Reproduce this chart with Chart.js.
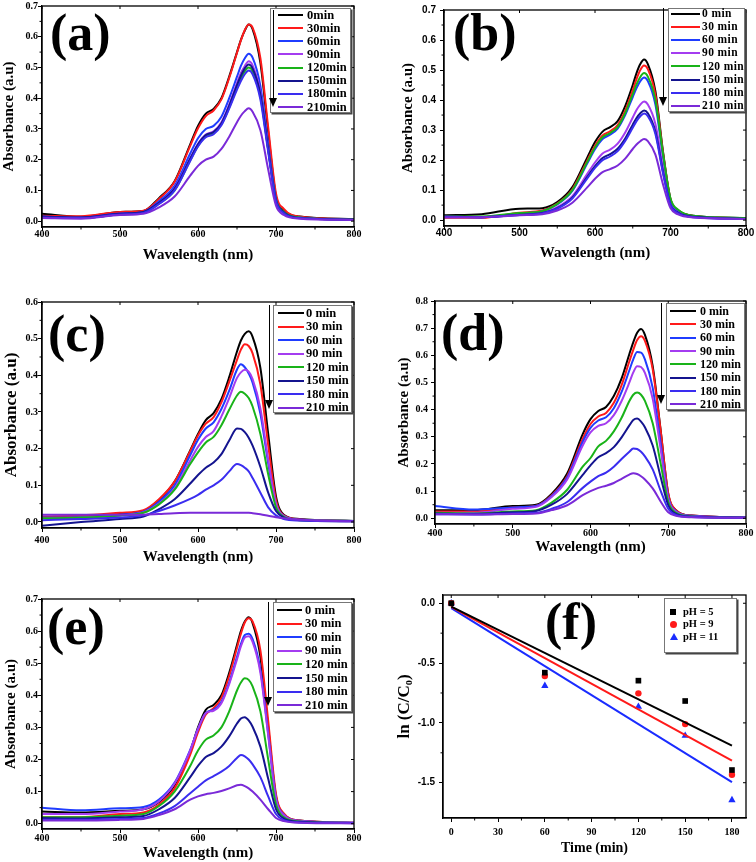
<!DOCTYPE html>
<html>
<head>
<meta charset="utf-8">
<script src="https://cdn.jsdelivr.net/npm/chart.js@4.4.1/dist/chart.umd.min.js"></script>
<style>
  html, body { margin: 0; padding: 0; background: #fff; }
  body { width: 756px; height: 862px; position: relative; overflow: hidden; }
  canvas { position: absolute; }
  .tag { position: absolute; font-family: 'Liberation Serif', 'Times New Roman', serif; font-weight: bold; font-size: 52px; line-height: 1; color: #000; white-space: nowrap; }
  .legend { position: absolute; background: #fff; border: 1px solid #777; box-shadow: 1.5px 1.5px 0 #444; box-sizing: border-box; }
  .swatch { position: absolute; height: 2px; }
  .legend-text { position: absolute; font-family: 'Liberation Serif', 'Times New Roman', serif; font-weight: bold; color: #000; white-space: nowrap; }
  .arrow { position: absolute; width: 0; border-left: 1.5px solid #000; }
  .arrow::after { content: ''; position: absolute; left: -5px; bottom: -2px; border-left: 4px solid transparent; border-right: 4px solid transparent; border-top: 9px solid #000; }
  .marker { position: absolute; }
</style>
</head>
<body>
<canvas id="chartA" width="378" height="266" style="left:0px;top:0px"></canvas>
<canvas id="chartB" width="378" height="264" style="left:378px;top:0px"></canvas>
<canvas id="chartC" width="378" height="288" style="left:0px;top:280px"></canvas>
<canvas id="chartD" width="378" height="278" style="left:378px;top:280px"></canvas>
<canvas id="chartE" width="378" height="292" style="left:0px;top:570px"></canvas>
<canvas id="chartF" width="378" height="289" style="left:378px;top:570px"></canvas>

<script>
// ---- data ----
const wavelengths = [400, 450, 500, 530, 550, 570, 590, 600, 610, 620, 630, 640, 650, 655, 660, 665, 670, 680, 690, 700, 710, 730, 800];

const timesA = ['0min', '30min', '60min', '90min', '120min', '150min', '180min', '210min'];
const timesOther = ['0 min', '30 min', '60 min', '90 min', '120 min', '150 min', '180 min', '210 min'];

// panel (a) absorbance, one row per irradiation time
const spectraA = [
  [0.024, 0.014, 0.030, 0.033, 0.075, 0.130, 0.250, 0.310, 0.350, 0.365, 0.400, 0.470, 0.550, 0.590, 0.620, 0.640, 0.625, 0.515, 0.290, 0.080, 0.035, 0.015, 0.007],
  [0.018, 0.016, 0.030, 0.034, 0.072, 0.128, 0.245, 0.302, 0.342, 0.360, 0.396, 0.466, 0.548, 0.588, 0.622, 0.640, 0.630, 0.530, 0.305, 0.090, 0.040, 0.015, 0.006],
  [0.015, 0.012, 0.025, 0.030, 0.065, 0.115, 0.220, 0.270, 0.300, 0.310, 0.340, 0.400, 0.470, 0.505, 0.530, 0.545, 0.532, 0.440, 0.250, 0.072, 0.030, 0.012, 0.005],
  [0.012, 0.010, 0.022, 0.028, 0.060, 0.108, 0.205, 0.252, 0.282, 0.292, 0.322, 0.380, 0.450, 0.482, 0.505, 0.520, 0.507, 0.420, 0.238, 0.068, 0.028, 0.010, 0.005],
  [0.012, 0.010, 0.022, 0.028, 0.057, 0.100, 0.198, 0.245, 0.276, 0.286, 0.315, 0.370, 0.435, 0.465, 0.488, 0.500, 0.488, 0.405, 0.232, 0.070, 0.030, 0.012, 0.005],
  [0.015, 0.012, 0.024, 0.030, 0.060, 0.106, 0.203, 0.250, 0.280, 0.290, 0.318, 0.375, 0.443, 0.473, 0.497, 0.510, 0.497, 0.412, 0.234, 0.068, 0.028, 0.010, 0.005],
  [0.012, 0.010, 0.022, 0.027, 0.056, 0.100, 0.196, 0.243, 0.273, 0.283, 0.312, 0.366, 0.428, 0.456, 0.478, 0.490, 0.478, 0.396, 0.225, 0.065, 0.026, 0.010, 0.004],
  [0.010, 0.008, 0.020, 0.024, 0.045, 0.080, 0.148, 0.180, 0.200, 0.210, 0.235, 0.275, 0.322, 0.343, 0.358, 0.367, 0.356, 0.296, 0.168, 0.050, 0.020, 0.008, 0.004]
];

const spectraB = [
  [0.016, 0.020, 0.038, 0.040, 0.060, 0.110, 0.210, 0.260, 0.295, 0.310, 0.330, 0.380, 0.450, 0.490, 0.520, 0.535, 0.520, 0.430, 0.230, 0.070, 0.033, 0.015, 0.007],
  [0.008, 0.008, 0.025, 0.032, 0.055, 0.103, 0.200, 0.248, 0.282, 0.296, 0.317, 0.365, 0.433, 0.470, 0.500, 0.515, 0.503, 0.418, 0.226, 0.070, 0.033, 0.014, 0.006],
  [0.012, 0.010, 0.022, 0.030, 0.052, 0.097, 0.190, 0.236, 0.270, 0.285, 0.305, 0.350, 0.410, 0.440, 0.463, 0.475, 0.463, 0.385, 0.212, 0.066, 0.030, 0.013, 0.006],
  [0.012, 0.010, 0.020, 0.026, 0.043, 0.080, 0.155, 0.192, 0.222, 0.235, 0.255, 0.292, 0.342, 0.367, 0.385, 0.395, 0.385, 0.320, 0.176, 0.056, 0.026, 0.012, 0.005],
  [0.012, 0.012, 0.024, 0.030, 0.054, 0.100, 0.195, 0.242, 0.276, 0.290, 0.310, 0.356, 0.420, 0.452, 0.477, 0.490, 0.478, 0.400, 0.222, 0.072, 0.035, 0.015, 0.007],
  [0.012, 0.010, 0.018, 0.024, 0.040, 0.075, 0.145, 0.180, 0.207, 0.220, 0.238, 0.272, 0.318, 0.340, 0.356, 0.365, 0.356, 0.295, 0.162, 0.052, 0.025, 0.011, 0.005],
  [0.010, 0.010, 0.017, 0.022, 0.038, 0.072, 0.140, 0.174, 0.200, 0.212, 0.230, 0.264, 0.308, 0.330, 0.346, 0.355, 0.346, 0.287, 0.157, 0.050, 0.023, 0.010, 0.004],
  [0.010, 0.010, 0.016, 0.020, 0.032, 0.058, 0.110, 0.138, 0.160, 0.170, 0.182, 0.205, 0.237, 0.252, 0.263, 0.270, 0.263, 0.218, 0.120, 0.040, 0.019, 0.009, 0.004]
];

const spectraC = [
  [0.012, 0.015, 0.022, 0.030, 0.060, 0.110, 0.195, 0.240, 0.278, 0.297, 0.335, 0.395, 0.465, 0.495, 0.513, 0.520, 0.505, 0.420, 0.240, 0.070, 0.020, 0.008, 0.003],
  [0.015, 0.018, 0.025, 0.032, 0.062, 0.110, 0.193, 0.236, 0.268, 0.286, 0.326, 0.382, 0.442, 0.470, 0.485, 0.480, 0.460, 0.375, 0.210, 0.060, 0.018, 0.007, 0.003],
  [0.012, 0.013, 0.020, 0.028, 0.055, 0.100, 0.182, 0.224, 0.255, 0.272, 0.308, 0.358, 0.416, 0.430, 0.422, 0.405, 0.380, 0.295, 0.160, 0.048, 0.016, 0.006, 0.003],
  [0.010, 0.012, 0.018, 0.026, 0.050, 0.092, 0.168, 0.205, 0.232, 0.248, 0.288, 0.338, 0.393, 0.408, 0.415, 0.410, 0.390, 0.310, 0.170, 0.050, 0.016, 0.006, 0.003],
  [0.010, 0.012, 0.018, 0.025, 0.048, 0.088, 0.158, 0.190, 0.217, 0.232, 0.264, 0.306, 0.345, 0.355, 0.350, 0.338, 0.315, 0.240, 0.130, 0.040, 0.014, 0.005, 0.003],
  [-0.010, 0.000, 0.008, 0.015, 0.035, 0.062, 0.105, 0.128, 0.148, 0.162, 0.185, 0.222, 0.255, 0.254, 0.245, 0.230, 0.208, 0.150, 0.080, 0.030, 0.012, 0.005, 0.002],
  [0.005, 0.008, 0.012, 0.018, 0.030, 0.045, 0.063, 0.074, 0.088, 0.100, 0.115, 0.138, 0.158, 0.155, 0.148, 0.138, 0.120, 0.080, 0.040, 0.018, 0.008, 0.004, 0.002],
  [0.020, 0.020, 0.020, 0.020, 0.022, 0.024, 0.025, 0.025, 0.025, 0.025, 0.025, 0.025, 0.025, 0.025, 0.025, 0.025, 0.024, 0.021, 0.017, 0.013, 0.010, 0.006, 0.002]
];

const spectraD = [
  [0.030, 0.030, 0.045, 0.050, 0.090, 0.165, 0.310, 0.365, 0.395, 0.410, 0.450, 0.515, 0.605, 0.648, 0.683, 0.697, 0.675, 0.560, 0.330, 0.090, 0.030, 0.010, 0.003],
  [0.025, 0.025, 0.040, 0.046, 0.085, 0.155, 0.293, 0.347, 0.375, 0.388, 0.425, 0.490, 0.578, 0.620, 0.656, 0.670, 0.653, 0.548, 0.328, 0.092, 0.030, 0.010, 0.003],
  [0.045, 0.032, 0.040, 0.045, 0.082, 0.150, 0.282, 0.333, 0.360, 0.372, 0.405, 0.465, 0.545, 0.585, 0.612, 0.610, 0.585, 0.480, 0.280, 0.078, 0.026, 0.009, 0.003],
  [0.020, 0.020, 0.035, 0.042, 0.078, 0.143, 0.268, 0.316, 0.340, 0.350, 0.380, 0.432, 0.500, 0.537, 0.560, 0.557, 0.535, 0.440, 0.258, 0.072, 0.024, 0.008, 0.003],
  [0.020, 0.018, 0.025, 0.030, 0.058, 0.105, 0.190, 0.222, 0.265, 0.285, 0.320, 0.370, 0.432, 0.455, 0.463, 0.455, 0.432, 0.350, 0.205, 0.060, 0.020, 0.007, 0.002],
  [0.018, 0.016, 0.022, 0.027, 0.050, 0.090, 0.160, 0.195, 0.225, 0.240, 0.262, 0.298, 0.342, 0.362, 0.367, 0.356, 0.335, 0.268, 0.155, 0.048, 0.016, 0.006, 0.002],
  [0.015, 0.014, 0.018, 0.020, 0.035, 0.060, 0.112, 0.135, 0.155, 0.168, 0.190, 0.218, 0.245, 0.257, 0.255, 0.245, 0.228, 0.180, 0.103, 0.035, 0.012, 0.005, 0.002],
  [0.015, 0.014, 0.016, 0.018, 0.030, 0.048, 0.085, 0.100, 0.112, 0.120, 0.130, 0.145, 0.161, 0.166, 0.163, 0.155, 0.143, 0.110, 0.063, 0.022, 0.009, 0.004, 0.002]
];

const spectraE = [
  [0.038, 0.035, 0.040, 0.045, 0.068, 0.120, 0.225, 0.300, 0.355, 0.370, 0.400, 0.470, 0.557, 0.600, 0.630, 0.643, 0.625, 0.520, 0.300, 0.085, 0.030, 0.010, 0.003],
  [0.020, 0.020, 0.030, 0.035, 0.060, 0.110, 0.215, 0.285, 0.340, 0.360, 0.392, 0.460, 0.548, 0.592, 0.627, 0.640, 0.630, 0.540, 0.320, 0.092, 0.032, 0.010, 0.003],
  [0.050, 0.042, 0.048, 0.052, 0.075, 0.128, 0.230, 0.295, 0.345, 0.355, 0.380, 0.440, 0.520, 0.560, 0.588, 0.592, 0.575, 0.480, 0.280, 0.080, 0.028, 0.009, 0.003],
  [0.030, 0.030, 0.038, 0.045, 0.070, 0.125, 0.228, 0.295, 0.345, 0.352, 0.375, 0.435, 0.512, 0.552, 0.580, 0.584, 0.566, 0.470, 0.275, 0.078, 0.027, 0.009, 0.003],
  [0.020, 0.020, 0.025, 0.030, 0.055, 0.100, 0.180, 0.228, 0.262, 0.275, 0.300, 0.350, 0.415, 0.440, 0.453, 0.448, 0.428, 0.350, 0.200, 0.060, 0.020, 0.007, 0.002],
  [0.018, 0.016, 0.020, 0.024, 0.045, 0.080, 0.145, 0.180, 0.208, 0.220, 0.240, 0.272, 0.312, 0.328, 0.332, 0.322, 0.302, 0.240, 0.140, 0.045, 0.016, 0.006, 0.002],
  [0.012, 0.012, 0.015, 0.018, 0.032, 0.055, 0.095, 0.115, 0.135, 0.148, 0.162, 0.180, 0.205, 0.214, 0.210, 0.200, 0.185, 0.145, 0.085, 0.030, 0.011, 0.004, 0.002],
  [0.010, 0.010, 0.012, 0.015, 0.027, 0.045, 0.075, 0.085, 0.092, 0.096, 0.102, 0.110, 0.120, 0.121, 0.117, 0.110, 0.100, 0.075, 0.045, 0.018, 0.008, 0.003, 0.001]
];

// panel (f): kinetics
const kineticTimes = [0, 60, 120, 150, 180];
const lnPH5 = [0, -0.58, -0.647, -0.817, -1.394];
const lnPH9 = [0, -0.608, -0.753, -1.01, -1.433];
const lnPH11 = [0, -0.69, -0.865, -1.107, -1.645];
const fitTimes = [0, 180];
const fitPH5 = [-0.028, -1.19];
const fitPH9 = [-0.03, -1.315];
const fitPH11 = [-0.04, -1.495];
const phLabels = ['pH = 5', 'pH = 9', 'pH = 11'];
const phColours = ['#000000', '#ff1a1a', '#1a2cff'];

const curveColours = ['#000000', '#ff1a1a', '#1f3cff', '#a43cf0', '#19b319', '#14148f', '#3a2df0', '#7a2ad8'];

// ---- helpers ----
const serif = "'Liberation Serif', 'Times New Roman', serif";
const sans = "'Liberation Sans', Arial, sans-serif";

const framePlugin = {
    id: 'frame',
    afterDatasetsDraw(chart) {
        const { ctx, chartArea: a } = chart;
        const xs = chart.scales.x, ys = chart.scales.y;
        const xt = xs.ticks.map(t => t.value), yt = ys.ticks.map(t => t.value);
        ctx.save();
        ctx.strokeStyle = '#000';
        ctx.lineWidth = 1.3;
        ctx.strokeRect(a.left, a.top, a.right - a.left, a.bottom - a.top);
        ctx.lineWidth = 1;
        ctx.beginPath();
        xt.forEach(v => {
            const p = xs.getPixelForValue(v);
            ctx.moveTo(p, a.top); ctx.lineTo(p, a.top + 3);
        });
        yt.forEach(v => {
            const p = ys.getPixelForValue(v);
            ctx.moveTo(a.right, p); ctx.lineTo(a.right - 3, p);
        });
        // minor ticks between the major ones
        for (let i = 0; i < xt.length - 1; i++) {
            const p = xs.getPixelForValue((xt[i] + xt[i + 1]) / 2);
            ctx.moveTo(p, a.bottom); ctx.lineTo(p, a.bottom + 2.5);
        }
        for (let i = 0; i < yt.length - 1; i++) {
            const p = ys.getPixelForValue((yt[i] + yt[i + 1]) / 2);
            ctx.moveTo(a.left, p); ctx.lineTo(a.left - 2.5, p);
        }
        ctx.stroke();
        ctx.restore();
    }
};

function spectrum_datasets(spectra, labels) {
    const n = spectra.length;
    return spectra.map((vals, i) => ({
        label: labels[i],
        data: vals.map((v, k) => ({ x: wavelengths[k], y: v })),
        borderColor: curveColours[i],
        borderWidth: 2,
        pointRadius: 0,
        fill: false,
        cubicInterpolationMode: 'monotone',
        order: n - i
    }));
}

function build_chart(canvas_id, geom, datasets, x_cfg, y_cfg) {
    const x_family = geom.tickFamily || serif;
    const y_family = geom.yTickFamily || x_family;
    return new Chart(document.getElementById(canvas_id), {
        type: 'line',
        data: { datasets: datasets },
        options: {
            responsive: false,
            animation: false,
            devicePixelRatio: 1,
            layout: { padding: geom.padding },
            plugins: { legend: { display: false }, tooltip: { enabled: false } },
            scales: {
                x: {
                    type: 'linear',
                    min: x_cfg.min,
                    max: x_cfg.max,
                    afterFit: s => { s.height = geom.xHeight; },
                    ticks: {
                        stepSize: x_cfg.step,
                        includeBounds: false,
                        maxRotation: 0,
                        color: '#000',
                        padding: geom.xTickPad,
                        font: { family: x_family, weight: 'bold', size: 10 },
                        callback: v => String(v)
                    },
                    grid: { drawOnChartArea: false, drawTicks: true, tickLength: 4, color: '#000' },
                    border: { display: true, color: '#000', width: 1.3 },
                    title: {
                        display: true, text: x_cfg.title, color: '#000',
                        font: { family: serif, weight: 'bold', size: x_cfg.titleSize },
                        padding: { top: 0, bottom: geom.xTitlePad }
                    }
                },
                y: {
                    type: 'linear',
                    min: y_cfg.min,
                    max: y_cfg.max,
                    afterFit: s => { s.width = geom.yWidth; },
                    ticks: {
                        stepSize: y_cfg.step,
                        includeBounds: false,
                        color: '#000',
                        padding: geom.yTickPad,
                        font: { family: y_family, weight: 'bold', size: 10 },
                        callback: v => Number(v).toFixed(1)
                    },
                    grid: { drawOnChartArea: false, drawTicks: true, tickLength: 4, color: '#000' },
                    border: { display: true, color: '#000', width: 1.3 },
                    title: {
                        display: true, text: y_cfg.title, color: '#000',
                        font: { family: serif, weight: 'bold', size: y_cfg.titleSize },
                        padding: { top: geom.yTitlePad, bottom: 0 }
                    }
                }
            }
        },
        plugins: [framePlugin]
    });
}

function add_tag(text, left, top) {
    const el = document.createElement('div');
    el.className = 'tag';
    el.textContent = text;
    el.style.left = left + 'px';
    el.style.top = top + 'px';
    document.body.appendChild(el);
}

function add_box(b) {
    const box = document.createElement('div');
    box.className = 'legend';
    Object.assign(box.style, {
        left: b[0] + 'px', top: b[1] + 'px',
        width: (b[2] - b[0]) + 'px', height: (b[3] - b[1]) + 'px'
    });
    document.body.appendChild(box);
}

function add_text(text, x, yc, size, spacing) {
    const tx = document.createElement('div');
    tx.className = 'legend-text';
    tx.textContent = text;
    Object.assign(tx.style, {
        left: x + 'px', top: (yc - size * 0.6) + 'px',
        fontSize: size + 'px', lineHeight: (size * 1.2) + 'px',
        letterSpacing: (spacing || 0) + 'px'
    });
    document.body.appendChild(tx);
}

function add_legend(cfg, labels) {
    add_box(cfg.box);
    labels.forEach((lab, i) => {
        const y = cfg.rowY + i * cfg.rowStep;
        const sw = document.createElement('div');
        sw.className = 'swatch';
        Object.assign(sw.style, {
            left: cfg.swatch[0] + 'px', width: (cfg.swatch[1] - cfg.swatch[0]) + 'px',
            top: Math.round(y - 1) + 'px', background: curveColours[i]
        });
        document.body.appendChild(sw);
        add_text(lab, cfg.textX, y, cfg.fontSize, cfg.spacing);
    });
    const ar = document.createElement('div');
    ar.className = 'arrow';
    Object.assign(ar.style, {
        left: cfg.arrow[0] + 'px', top: cfg.arrow[1] + 'px',
        height: (cfg.arrow[2] - cfg.arrow[1] - 8) + 'px'
    });
    document.body.appendChild(ar);
}

const wavelengthAxis = { min: 400, max: 800, step: 100, title: 'Wavelength (nm)', titleSize: 15 };

// ---- panels ----
build_chart('chartA',
    { padding: { top: 5, right: 24, bottom: 0, left: 0 }, yWidth: 42, xHeight: 39, xTickPad: -3, yTickPad: 0, xTitlePad: 2, yTitlePad: 0 },
    spectrum_datasets(spectraA, timesA), wavelengthAxis,
    { min: -0.019, max: 0.7, step: 0.1, title: 'Absorbance (a.u)', titleSize: 15 });
add_tag('(a)', 50, 7);
add_legend({ box: [270, 8, 351, 113], rowY: 15, rowStep: 13.15, swatch: [278, 303], textX: 307, fontSize: 12.5, arrow: [273, 10, 113] }, timesA);

build_chart('chartB',
    { padding: { top: 5, right: 10, bottom: 0, left: 21 }, yWidth: 45, xHeight: 38, xTickPad: -3, yTickPad: 4, xTitlePad: 2, yTitlePad: 0, tickFamily: sans },
    spectrum_datasets(spectraB, timesOther), wavelengthAxis,
    { min: -0.0195, max: 0.7, step: 0.1, title: 'Absorbance (a.u)', titleSize: 15 });
add_tag('(b)', 453, 7);
add_legend({ box: [668, 8, 745, 112], rowY: 14, rowStep: 13.1, swatch: [671, 700], textX: 702, fontSize: 11.5, spacing: 0.4, arrow: [663, 8, 112] }, timesOther);

build_chart('chartC',
    { padding: { top: 22, right: 24, bottom: 0, left: 0 }, yWidth: 42, xHeight: 40, xTickPad: 2, yTickPad: 0, xTitlePad: 2, yTitlePad: 1.5 },
    spectrum_datasets(spectraC, timesOther), wavelengthAxis,
    { min: -0.0164, max: 0.6, step: 0.1, title: 'Absorbance (a.u)', titleSize: 17 });
add_tag('(c)', 48, 308);
add_legend({ box: [273, 305, 352, 413], rowY: 313, rowStep: 13.5, swatch: [278, 304], textX: 306, fontSize: 12.5, arrow: [269, 305, 415] }, timesOther);

build_chart('chartD',
    { padding: { top: 21, right: 10, bottom: 0, left: 17 }, yWidth: 40, xHeight: 34, xTickPad: -1, yTickPad: 3, xTitlePad: 2, yTitlePad: 0 },
    spectrum_datasets(spectraD, timesOther), wavelengthAxis,
    { min: -0.021, max: 0.8, step: 0.1, title: 'Absorbance (a.u)', titleSize: 15 });
add_tag('(d)', 441, 307);
add_legend({ box: [666, 303, 745, 410], rowY: 311, rowStep: 13.3, swatch: [670, 696], textX: 700, fontSize: 12, arrow: [661, 303, 410] }, timesOther);

build_chart('chartE',
    { padding: { top: 29, right: 24, bottom: 0, left: 0 }, yWidth: 42, xHeight: 33, xTickPad: -1, yTickPad: 0, xTitlePad: 0, yTitlePad: 2 },
    spectrum_datasets(spectraE, timesOther), wavelengthAxis,
    { min: -0.0165, max: 0.7, step: 0.1, title: 'Absorbance (a.u)', titleSize: 15 });
add_tag('(e)', 47, 601);
add_legend({ box: [273, 602, 352, 712], rowY: 610, rowStep: 13.6, swatch: [277, 302], textX: 305, fontSize: 12.5, arrow: [268, 602, 712] }, timesOther);

// panel (f): fitted lines plus measured points
const kineticSets = [lnPH5, lnPH9, lnPH11];
const fitSets = [fitPH5, fitPH9, fitPH11];
const pointStyles = ['rect', 'circle', 'triangle'];
const pointSizes = [4, 3.2, 4.2];
const kineticData = [];
fitSets.forEach((vals, i) => {
    kineticData.push({
        label: phLabels[i] + ' fit',
        data: vals.map((v, k) => ({ x: fitTimes[k], y: v })),
        borderColor: phColours[i], borderWidth: 2, pointRadius: 0, fill: false
    });
});
kineticSets.forEach((vals, i) => {
    kineticData.push({
        label: phLabels[i],
        data: vals.map((v, k) => ({ x: kineticTimes[k], y: v })),
        showLine: false, pointStyle: pointStyles[i], pointRadius: pointSizes[i],
        backgroundColor: phColours[i], borderColor: phColours[i], borderWidth: 0
    });
});
build_chart('chartF',
    { padding: { top: 25, right: 10, bottom: 0, left: 16 }, yWidth: 49, xHeight: 41, xTickPad: 4, yTickPad: 4, xTitlePad: 2, yTitlePad: 0, yTickFamily: sans },
    kineticData,
    { min: -5.3, max: 189, step: 30, title: 'Time (min)', titleSize: 14 },
    { min: -1.795, max: 0.069, step: 0.5, title: 'ln (C/C\u2080)', titleSize: 17 });
add_tag('(f)', 545, 596);

// legend for (f)
add_box([664, 598, 737, 653]);
const phRows = [612, 624.5, 637];
const sq = document.createElement('div');
sq.className = 'marker';
Object.assign(sq.style, { left: '670px', top: (phRows[0] - 3) + 'px', width: '6px', height: '6px', background: phColours[0] });
document.body.appendChild(sq);
const ci = document.createElement('div');
ci.className = 'marker';
Object.assign(ci.style, { left: '670px', top: (phRows[1] - 3.5) + 'px', width: '7px', height: '7px', borderRadius: '50%', background: phColours[1] });
document.body.appendChild(ci);
const tr = document.createElement('div');
tr.className = 'marker';
Object.assign(tr.style, { left: '669.5px', top: (phRows[2] - 4) + 'px', width: '0', height: '0', borderLeft: '4px solid transparent', borderRight: '4px solid transparent', borderBottom: '7px solid ' + phColours[2] });
document.body.appendChild(tr);
phLabels.forEach((lab, i) => add_text(lab, 683, phRows[i], 10.5));
</script>
</body>
</html>
